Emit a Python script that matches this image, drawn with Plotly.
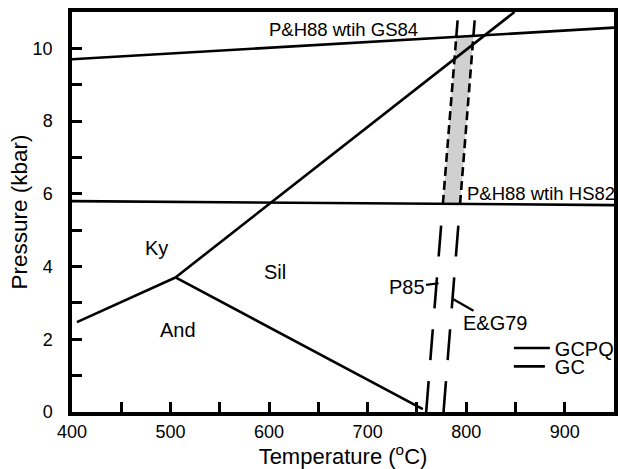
import numpy as np
import plotly.graph_objects as go

# ---------------- data (T in degC, P in kbar) ----------------
# Pattison & Harte 1988 reaction lines
ph_gs84_T = [400, 950]
ph_gs84_P = [9.70, 10.57]
ph_hs82_T = [400, 950]
ph_hs82_P = [5.80, 5.69]
# Al2SiO5 phase diagram
ky_and_T = [405, 505]
ky_and_P = [2.47, 3.70]
ky_sil_T = [505, 849]
ky_sil_P = [3.70, 11.0]
and_sil_T = [505, 756]
and_sil_P = [3.70, 0.08]
# garnet-cordierite isopleths (P85 and E&G79 calibrations)
gc_p85_T = [759.4, 791.3]
gc_p85_P = [0.0, 10.77]
gc_eg79_T = [777.0, 808.6]
gc_eg79_P = [0.0, 10.77]

# tick values / labels
x_tickvals = list(range(400, 951, 50))
x_ticktext = [str(v) if v % 100 == 0 and v < 950 else "" for v in x_tickvals]
y_tickvals = list(range(0, 11))
y_ticktext = [str(v) if v % 2 == 0 else "" for v in y_tickvals]


def intersect(gcT, gcP, phT, phP):
    s = (gcT[1] - gcT[0]) / (gcP[1] - gcP[0])
    t0 = gcT[0] - s * gcP[0]
    b = (phP[1] - phP[0]) / (phT[1] - phT[0])
    a = phP[0] - b * phT[0]
    P = (a + b * t0) / (1 - b * s)
    return t0 + s * P, P


LB = intersect(gc_p85_T, gc_p85_P, ph_hs82_T, ph_hs82_P)
LT = intersect(gc_p85_T, gc_p85_P, ph_gs84_T, ph_gs84_P)
RB = intersect(gc_eg79_T, gc_eg79_P, ph_hs82_T, ph_hs82_P)
RT = intersect(gc_eg79_T, gc_eg79_P, ph_gs84_T, ph_gs84_P)

FONT = "Liberation Sans, Arial, Helvetica, sans-serif"
LW = 2.6
fig = go.Figure()

# shaded field
fig.add_trace(go.Scatter(
    x=[LB[0], LT[0], RT[0], RB[0], LB[0]], y=[LB[1], LT[1], RT[1], RB[1], LB[1]],
    mode="lines", fill="toself", fillcolor="#d0d0d0", line=dict(width=0),
    showlegend=False, hoverinfo="skip"))

# field edges (short dashes)
for bot, top in [(LB, LT), (RB, RT)]:
    fig.add_trace(go.Scatter(x=[bot[0], top[0]], y=[bot[1], top[1]], mode="lines",
                             line=dict(color="black", width=LW, dash="9px,5px"),
                             showlegend=False, hoverinfo="skip"))

# GC isopleths: long dashes below field, solid above
for i, (T, P, bot, top) in enumerate([(gc_p85_T, gc_p85_P, LB, LT),
                                      (gc_eg79_T, gc_eg79_P, RB, RT)]):
    fig.add_trace(go.Scatter(x=[T[0], bot[0]], y=[P[0], bot[1]], mode="lines",
                             line=dict(color="black", width=LW, dash="31px,21px"),
                             name="GC", showlegend=(i == 0), legend="legend2"))
    fig.add_trace(go.Scatter(x=[top[0], T[1]], y=[top[1], P[1]], mode="lines",
                             line=dict(color="black", width=LW),
                             name="GCPQ", showlegend=(i == 0), legend="legend"))

# solid reaction lines
for T, P in [(ph_gs84_T, ph_gs84_P), (ph_hs82_T, ph_hs82_P), (ky_and_T, ky_and_P),
             (ky_sil_T, ky_sil_P), (and_sil_T, and_sil_P)]:
    fig.add_trace(go.Scatter(x=T, y=P, mode="lines", line=dict(color="black", width=LW),
                             showlegend=False, hoverinfo="skip"))

ann = []
def label(x, y, text, size, xanchor="center"):
    ann.append(dict(x=x, y=y, xref="x", yref="y", text=text, showarrow=False,
                    xanchor=xanchor, yanchor="middle",
                    font=dict(size=size, color="black", family=FONT)))

label(753, 10.52, "P&H88 wtih GS84", 18.5, "right")
label(799, 6.02, "P&H88 wtih HS82", 18.5, "left")
label(486, 4.50, "Ky", 20)
label(508, 2.25, "And", 20)
label(606, 3.84, "Sil", 20)

ann.append(dict(x=772, y=3.54, xref="x", yref="y", text="P85", showarrow=True,
                arrowhead=0, arrowwidth=2.2, arrowcolor="black", ax=-32, ay=4,
                font=dict(size=20, color="black", family=FONT)))
ann.append(dict(x=787, y=3.10, xref="x", yref="y", text="E&G79", showarrow=True,
                arrowhead=0, arrowwidth=2.2, arrowcolor="black", ax=42, ay=24,
                font=dict(size=20, color="black", family=FONT)))

axis_common = dict(showline=True, linecolor="black", linewidth=3.5, mirror=True,
                   ticks="inside", ticklen=10, tickwidth=2.5, tickcolor="black",
                   showgrid=False, zeroline=False,
                   tickfont=dict(size=18, color="black", family=FONT))

legend_common = dict(bgcolor="rgba(0,0,0,0)", borderwidth=0, xanchor="left",
                     yanchor="middle", font=dict(size=20, color="black", family=FONT),
                     itemwidth=36)

fig.update_layout(
    width=620, height=469,
    margin=dict(l=72, r=1, t=12, b=57),
    plot_bgcolor="white", paper_bgcolor="white",
    xaxis=dict(range=[400, 950], tickvals=x_tickvals, ticktext=x_ticktext,
               title=dict(text="Temperature (<sup>o</sup>C)", standoff=6,
                          font=dict(size=22, color="black", family=FONT)),
               ticklabelstandoff=1, **axis_common),
    yaxis=dict(range=[0, 11], tickvals=y_tickvals, ticktext=y_ticktext,
               title=dict(text="Pressure (kbar)", standoff=0,
                          font=dict(size=22.5, color="black", family=FONT)),
               ticklabelstandoff=12, **axis_common),
    legend=dict(x=0.806, y=0.16, **legend_common),
    legend2=dict(x=0.806, y=0.114, **legend_common),
    annotations=ann,
)

fig.write_html("out.html", config={"displayModeBar": False},
               post_script="document.body.style.margin='0';document.body.style.overflow='hidden';")
